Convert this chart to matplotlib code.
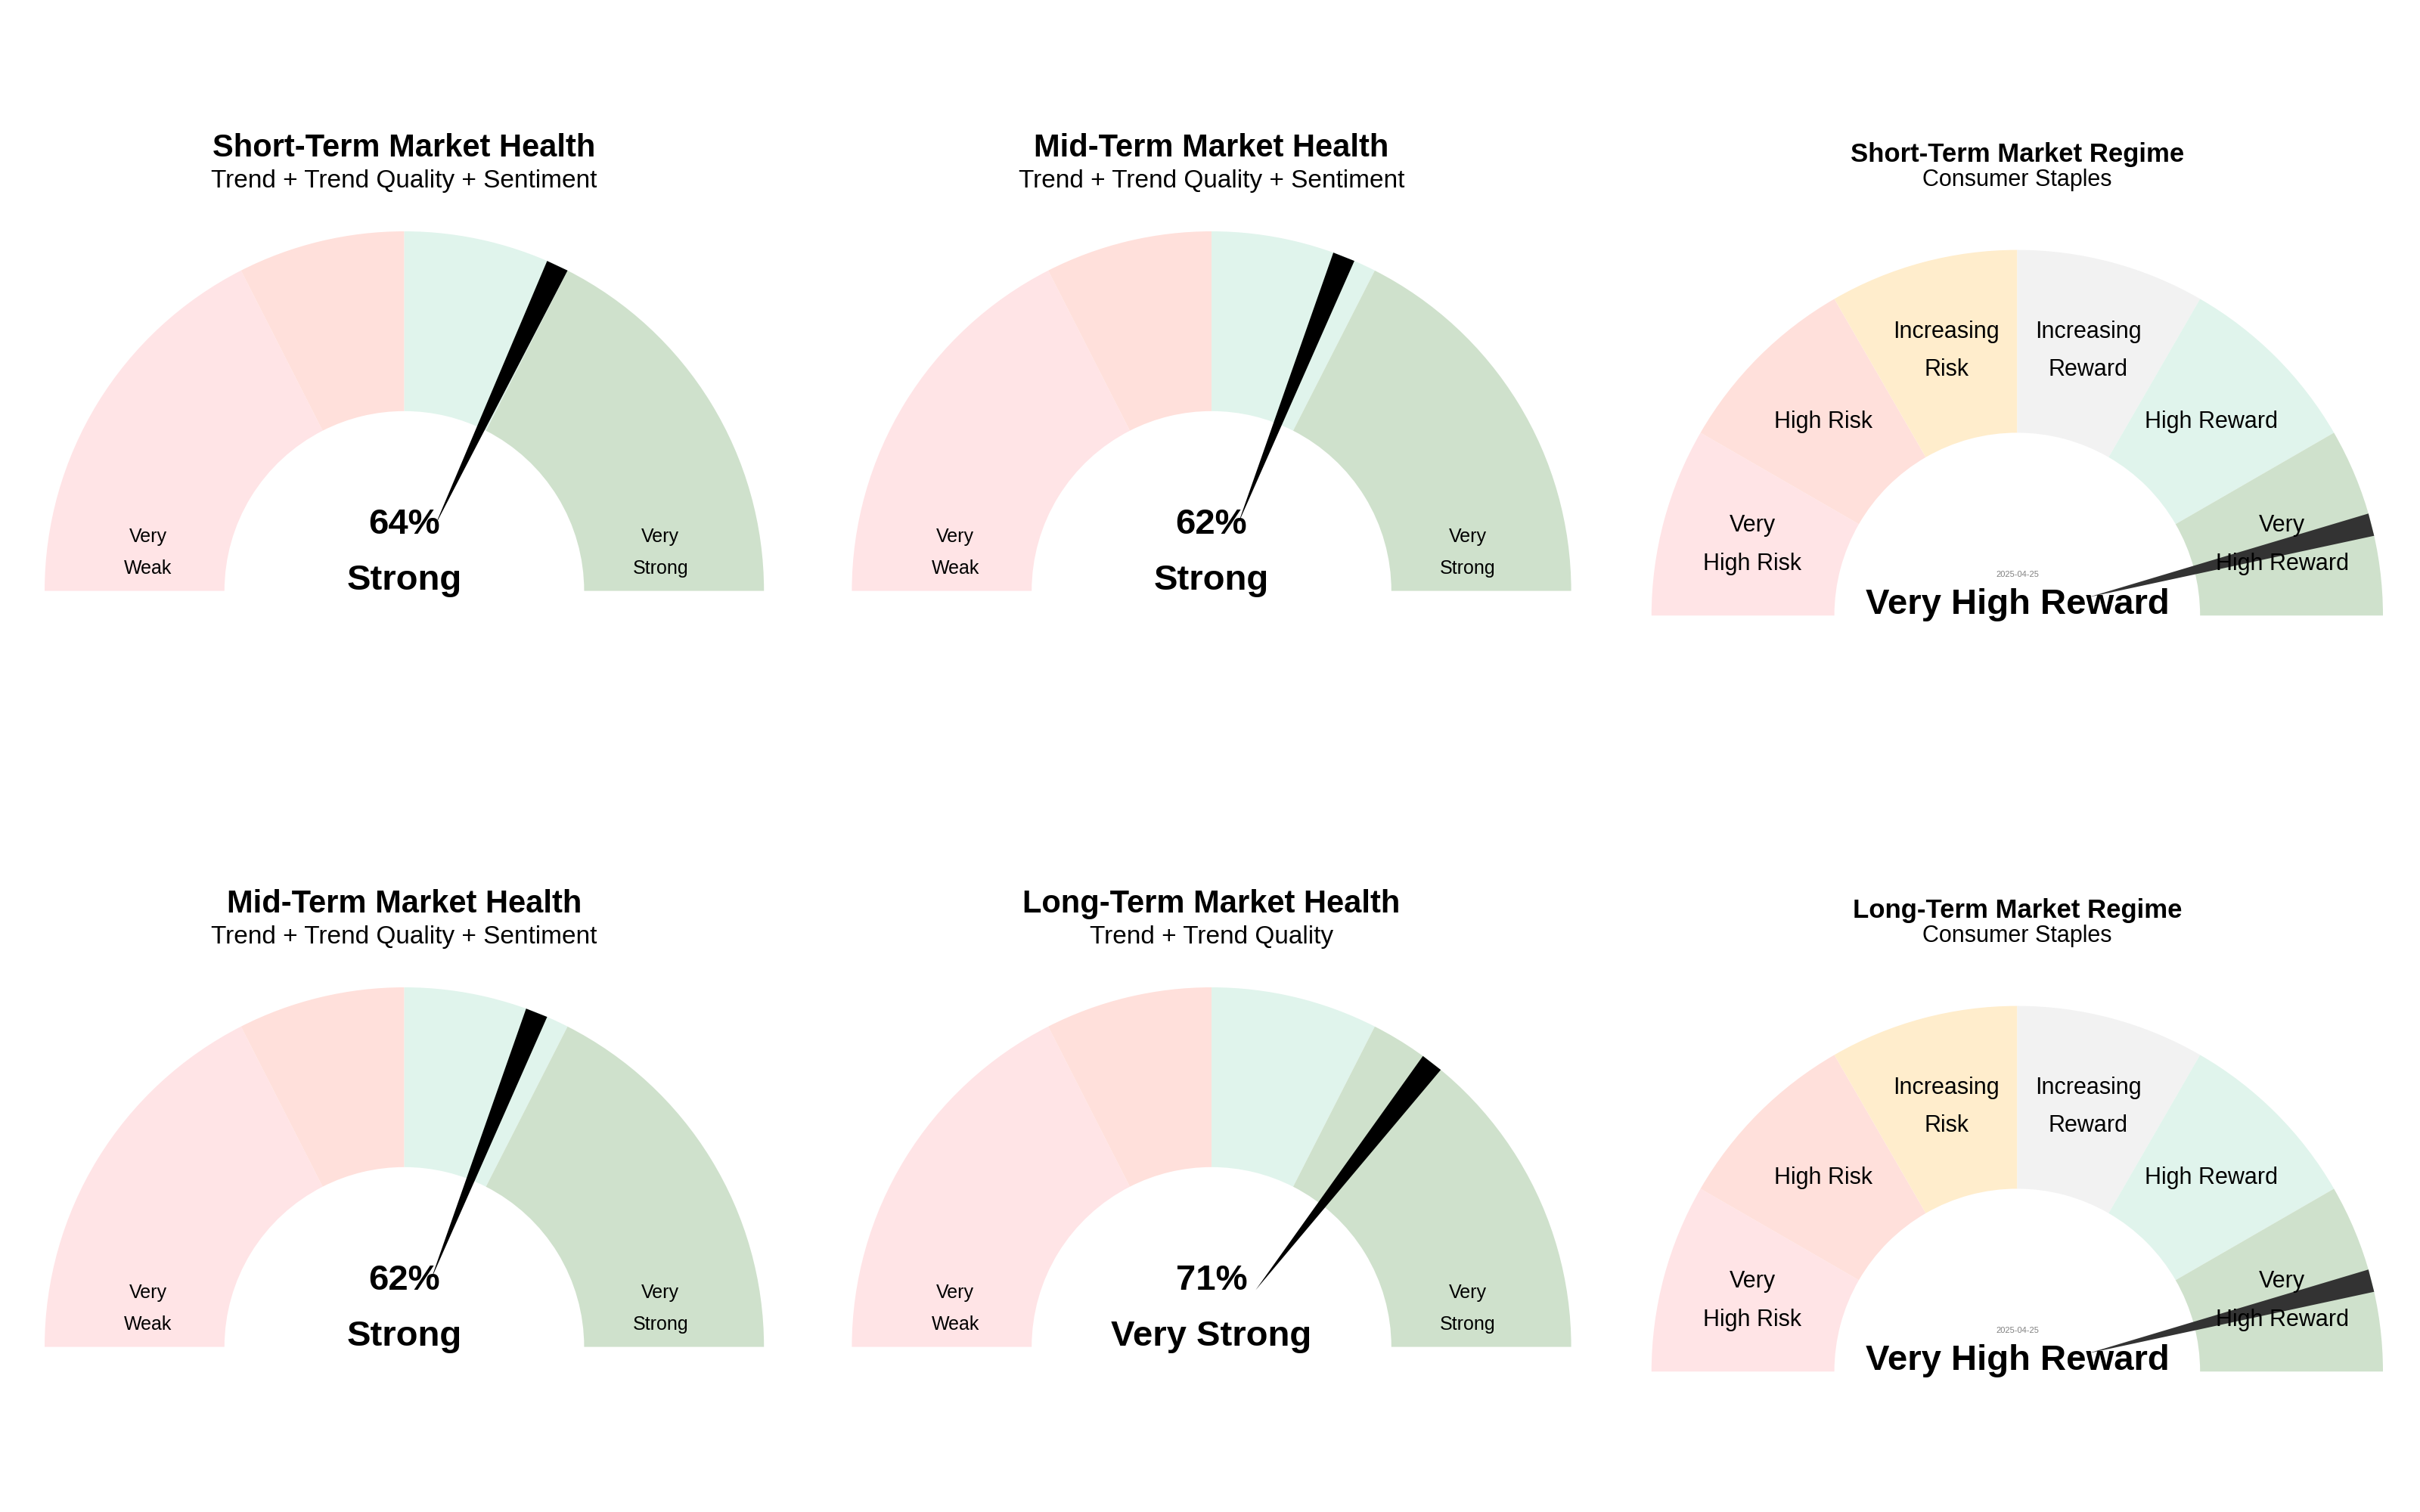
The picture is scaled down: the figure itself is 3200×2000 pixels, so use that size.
import numpy as np
import matplotlib
matplotlib.use("Agg")
import matplotlib.pyplot as plt
from matplotlib.patches import Wedge, Polygon

plt.rcParams["font.family"] = "Liberation Sans"

# ---- data ----
health_titles = ["Short-Term Market Health", "Mid-Term Market Health",
                 "Mid-Term Market Health", "Long-Term Market Health"]
health_subtitles = ["Trend + Trend Quality + Sentiment", "Trend + Trend Quality + Sentiment",
                    "Trend + Trend Quality + Sentiment", "Trend + Trend Quality"]
health_values = [64, 62, 62, 71]
health_status = ["Strong", "Strong", "Strong", "Very Strong"]
health_bounds = [0, 35, 50, 65, 100]
health_colors = ["#FFE4E6", "#FFE0DB", "#E0F4EC", "#CFE1CC"]

regime_titles = ["Short-Term Market Regime", "Long-Term Market Regime"]
regime_subtitle = "Consumer Staples"
regime_labels = ["Very\nHigh Risk", "High Risk", "Increasing\nRisk",
                 "Increasing\nReward", "High Reward", "Very\nHigh Reward"]
regime_colors = ["#FFE4E6", "#FFE0DB", "#FFEDCC", "#F2F2F2", "#E0F4EC", "#CFE1CC"]
regime_values = [92, 92]  # percent of dial
regime_status = ["Very High Reward", "Very High Reward"]
regime_date = "2025-04-25"

fig = plt.figure(figsize=(16, 10), dpi=200)
ax = fig.add_axes([0, 0, 1, 1])
ax.set_xlim(0, 16)
ax.set_ylim(0, 10)
ax.set_aspect("equal")
ax.axis("off")

def needle(cx, cy, R, frac, color):
    a = np.pi * (1 - frac)
    hw = np.radians(1.8)
    tip = (cx + 0.2 * R * np.cos(a), cy + 0.2 * R * np.sin(a))
    b1 = (cx + R * np.cos(a - hw), cy + R * np.sin(a - hw))
    b2 = (cx + R * np.cos(a + hw), cy + R * np.sin(a + hw))
    ax.add_patch(Polygon([tip, b1, b2], closed=True, color=color, zorder=5, lw=0))

def health(cx, cy, i):
    R = 2.378
    for k in range(4):
        t1 = 180 * (1 - health_bounds[k + 1] / 100)
        t2 = 180 * (1 - health_bounds[k] / 100)
        ax.add_patch(Wedge((cx, cy), R, t1, t2, width=R * 0.5, color=health_colors[k], lw=0))
    for lab, ang in (("Very\nWeak", 171.5), ("Very\nStrong", 8.5)):
        a = np.radians(ang)
        ax.text(cx + 0.72 * R * np.cos(a), cy + 0.72 * R * np.sin(a), lab,
                ha="center", va="center", fontsize=9, linespacing=1.9)
    needle(cx, cy, R, health_values[i] / 100, "black")
    ax.text(cx, cy + 0.44, f"{health_values[i]}%", ha="center", va="center",
            fontsize=17, fontweight="bold", zorder=6)
    ax.text(cx, cy + 0.07, health_status[i], ha="center", va="center",
            fontsize=17, fontweight="bold", zorder=6)
    ax.text(cx, cy + 2.93, health_titles[i], ha="center", va="center",
            fontsize=15, fontweight="bold")
    ax.text(cx, cy + 2.71, health_subtitles[i], ha="center", va="center", fontsize=12)

def regime(cx, cy, i):
    R = 2.418
    for k in range(6):
        t2 = 180 - 30 * k
        ax.add_patch(Wedge((cx, cy), R, t2 - 30, t2, width=R * 0.5, color=regime_colors[k], lw=0))
        a = np.radians(t2 - 15)
        ax.text(cx + 0.75 * R * np.cos(a), cy + 0.75 * R * np.sin(a), regime_labels[k],
                ha="center", va="center", fontsize=11, linespacing=1.9, zorder=6)
    needle(cx, cy, R, regime_values[i] / 100, "#333333")
    ax.text(cx, cy + 0.27, regime_date, ha="center", va="center", fontsize=4, color="gray")
    ax.text(cx, cy + 0.07, regime_status[i], ha="center", va="center",
            fontsize=17, fontweight="bold", zorder=6)
    ax.text(cx, cy + 3.05, regime_titles[i], ha="center", va="center",
            fontsize=12.5, fontweight="bold")
    ax.text(cx, cy + 2.88, regime_subtitle, ha="center", va="center", fontsize=11)

xs = [2.673, 8.01]
health(xs[0], 6.092, 0)
health(xs[1], 6.092, 1)
health(xs[0], 1.092, 2)
health(xs[1], 1.092, 3)
regime(13.337, 5.929, 0)
regime(13.337, 0.929, 1)

fig.savefig("out.png", dpi=200, facecolor="white")
